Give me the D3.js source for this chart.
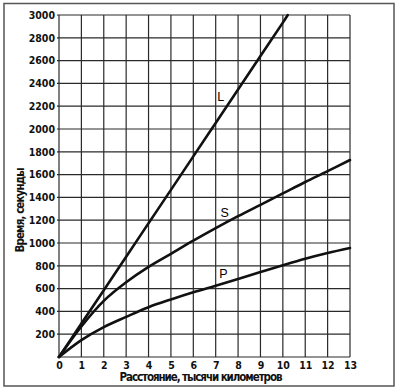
<!DOCTYPE html>
<html>
<head>
<meta charset="utf-8">
<script src="https://cdn.jsdelivr.net/npm/d3@7"></script>
<style>
  body { margin: 0; background: #fff; }
  svg { display: block; }
</style>
</head>
<body>
<div id="chart"></div>
<script>
var svgW = 400;
var svgH = 392;

// data
var distance = [0, 1, 2, 3, 4, 5, 6, 7, 8, 9, 10, 11, 12, 13];
var waveP = [0, 148, 262, 352, 437, 505, 568, 625, 684, 745, 805, 862, 912, 956];
var waveS = [0, 268, 492, 655, 790, 905, 1020, 1130, 1235, 1335, 1435, 1535, 1630, 1728];
var distL = [0, 1, 2, 3, 4, 5, 6, 7, 8, 9, 10, 10.22];
var waveL = [0, 293, 586, 880, 1173, 1466, 1760, 2053, 2346, 2640, 2933, 3000];
var xTicks = [0, 1, 2, 3, 4, 5, 6, 7, 8, 9, 10, 11, 12, 13];
var yTicks = [200, 400, 600, 800, 1000, 1200, 1400, 1600, 1800, 2000, 2200, 2400, 2600, 2800, 3000];
var yGrid = [0, 200, 400, 600, 800, 1000, 1200, 1400, 1600, 1800, 2000, 2200, 2400, 2600, 2800, 3000];

var margin = {left: 59, right: 50, top: 15, bottom: 35};
var chartW = svgW - margin.left - margin.right;
var chartH = svgH - margin.top - margin.bottom;

var svg = d3.select("#chart").append("svg")
    .attr("width", svgW)
    .attr("height", svgH);

// outer frame
svg.append("rect")
   .attr("x", 4).attr("y", 3.5)
   .attr("width", 390).attr("height", 382.5)
   .attr("fill", "none")
   .attr("stroke", "#555")
   .attr("stroke-width", 1.5);

var g = svg.append("g")
   .attr("transform", `translate(${margin.left}, ${margin.top})`);

var xScale = d3.scaleLinear().domain([0, 13]).range([0, 291]);
var yScale = d3.scaleLinear().domain([0, 3000]).range([chartH, 0]);

// grid
g.selectAll(".vgrid")
 .data(xTicks)
 .enter().append("line")
 .attr("x1", d => xScale(d)).attr("x2", d => xScale(d))
 .attr("y1", 0).attr("y2", chartH)
 .attr("stroke", "#2a2a2a")
 .attr("stroke-width", 1.2);

g.selectAll(".hgrid")
 .data(yGrid)
 .enter().append("line")
 .attr("x1", -2).attr("x2", xScale(13))
 .attr("y1", d => yScale(d)).attr("y2", d => yScale(d))
 .attr("stroke", "#2a2a2a")
 .attr("stroke-width", 1.2);

var tickFont = "'Liberation Sans Narrow', 'DejaVu Sans Condensed', sans-serif";

var leftAxis = d3.axisLeft(yScale).tickValues(yTicks).tickFormat(d3.format("d")).tickSize(0).tickPadding(4);
var bottomAxis = d3.axisBottom(xScale).tickValues(xTicks).tickFormat(d3.format("d")).tickSize(0).tickPadding(5);

var ya = g.append("g").call(leftAxis);
ya.select(".domain").remove();
ya.selectAll("text")
  .attr("font-family", tickFont)
  .attr("font-weight", "bold")
  .attr("font-size", 10.5)
  .attr("fill", "#111");

var xa = g.append("g").attr("transform", `translate(0, ${chartH})`).call(bottomAxis);
xa.select(".domain").remove();
xa.selectAll("text")
  .attr("font-family", tickFont)
  .attr("font-weight", "bold")
  .attr("font-size", 10.5)
  .attr("fill", "#111");

// curves
var line = d3.line()
    .x(d => xScale(d[0]))
    .y(d => yScale(d[1]))
    .curve(d3.curveCatmullRom.alpha(0.5));

var curves = [
  d3.zip(distance, waveP),
  d3.zip(distance, waveS),
  d3.zip(distL, waveL)
];

g.selectAll(".curve")
 .data(curves)
 .enter().append("path")
 .attr("d", line)
 .attr("fill", "none")
 .attr("stroke", "#111")
 .attr("stroke-width", 2.6)
 .attr("stroke-linecap", "round");

// curve labels
var labels = [
  {t: "L", x: 7.23, y: 2280},
  {t: "S", x: 7.4, y: 1270},
  {t: "P", x: 7.35, y: 730}
];
g.selectAll(".lab")
 .data(labels)
 .enter().append("text")
 .attr("x", d => xScale(d.x))
 .attr("y", d => yScale(d.y))
 .attr("dy", "0.35em")
 .attr("text-anchor", "middle")
 .attr("font-family", "'Liberation Sans', Arial, sans-serif")
 .attr("font-size", 12.5)
 .attr("fill", "#000")
 .text(d => d.t);

// axis titles
svg.append("text")
   .attr("transform", "translate(24, 210) rotate(-90)")
   .attr("text-anchor", "middle")
   .attr("font-family", "'DejaVu Sans Condensed', sans-serif")
   .attr("font-weight", "bold")
   .attr("font-size", 11.5)
   .attr("textLength", 85)
   .attr("fill", "#111")
   .text("Время, секунды");

svg.append("text")
   .attr("x", 201)
   .attr("y", 381)
   .attr("text-anchor", "middle")
   .attr("font-family", "'DejaVu Sans Condensed', sans-serif")
   .attr("font-weight", "bold")
   .attr("font-size", 11.5)
   .attr("textLength", 163)
   .attr("fill", "#111")
   .text("Расстояние, тысячи километров");
</script>
</body>
</html>
